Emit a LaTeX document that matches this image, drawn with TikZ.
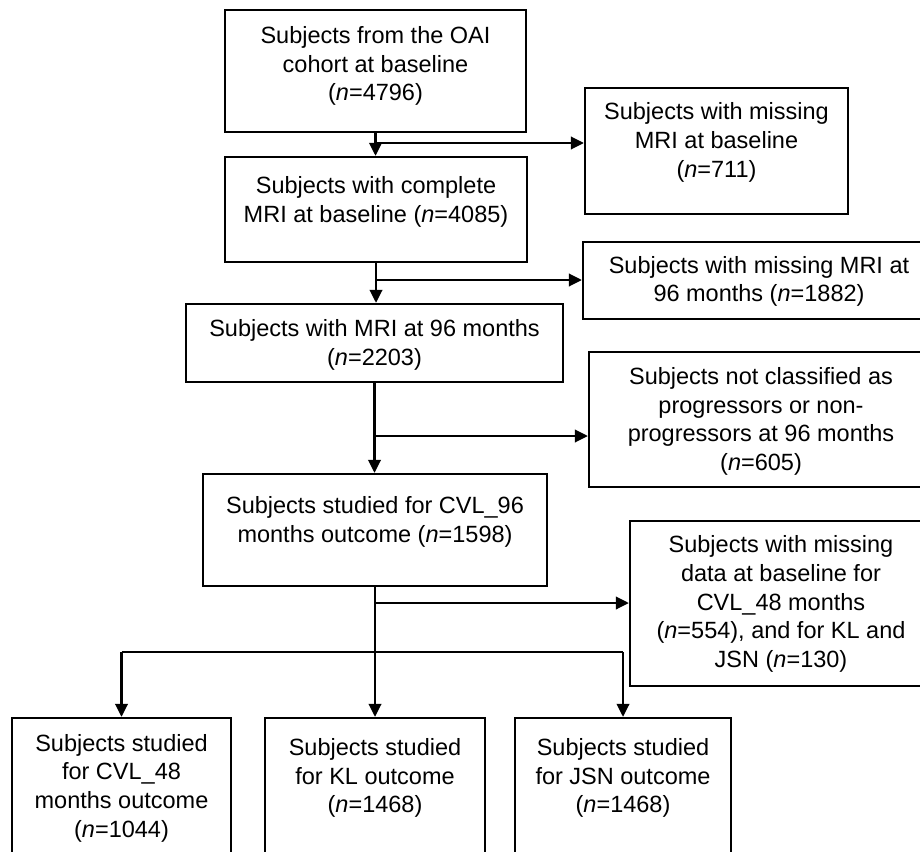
\documentclass[tikz,border=0pt]{standalone}
\usepackage{fontspec}
\setmainfont{Liberation Sans}
\usetikzlibrary{arrows.meta,calc}
\begin{document}
\begin{tikzpicture}[x=1pt,y=-1pt,
  box/.style={draw, line width=2.3pt, inner sep=0pt},
  txt/.style={align=center, font=\fontsize{23.5}{28.7}\selectfont, inner sep=0pt},
  arr/.style={line width=2.3pt, -{Triangle[length=13pt,width=12.5pt]}},
  ln/.style={line width=2.3pt}]
\clip (0,0) rectangle (920,851);
\fill[white] (0,0) rectangle (920,851);
% boxes
\node[box, minimum width=301pt, minimum height=122pt] (A) at (375.5,71) {};
\node[box, minimum width=302pt, minimum height=105pt] (B) at (376,209.5) {};
\node[box, minimum width=263pt, minimum height=126pt] (M1) at (716.5,151) {};
\node[box, minimum width=352pt, minimum height=77pt] (M2) at (759,280.5) {};
\node[box, minimum width=377pt, minimum height=78pt] (C) at (374.5,343) {};
\node[box, minimum width=346pt, minimum height=135pt] (M3) at (762,419.5) {};
\node[box, minimum width=344pt, minimum height=112pt] (D) at (375,530) {};
\node[box, minimum width=305pt, minimum height=165pt] (M4) at (782.5,603.5) {};
\node[box, minimum width=219pt, minimum height=162pt] (E1) at (121.5,799) {};
\node[box, minimum width=220pt, minimum height=162pt] (E2) at (375,799) {};
\node[box, minimum width=216pt, minimum height=162pt] (E3) at (623,799) {};
% texts
\node[txt] (tA) at (375.5,66) {Subjects from the OAI\\cohort at baseline\\(\textit{n}=4796)};
\node[txt] (tB) at (376,202) {Subjects with complete\\MRI at baseline (\textit{n}=4085)};
\node[txt] (tM1) at (716.5,142.5) {Subjects with missing\\MRI at baseline\\(\textit{n}=711)};
\node[txt] (tM2) at (759,281.5) {Subjects with missing MRI at\\96 months (\textit{n}=1882)};
\node[txt] (tC) at (374.5,345) {Subjects with MRI at 96 months\\(\textit{n}=2203)};
\node[txt] (tM3) at (761,421.5) {Subjects not classified as\\progressors or non-\\progressors at 96 months\\(\textit{n}=605)};
\node[txt] (tD) at (375,522) {Subjects studied for CVL\_96\\months outcome (\textit{n}=1598)};
\node[txt] (tM4) at (781,604) {Subjects with missing\\data at baseline for\\CVL\_48 months\\(\textit{n}=554), and for KL and\\JSN (\textit{n}=130)};
\node[txt] (tE1) at (121.5,788) {Subjects studied\\for CVL\_48\\months outcome\\(\textit{n}=1044)};
\node[txt] (tE2) at (375,778) {Subjects studied\\for KL outcome\\(\textit{n}=1468)};
\node[txt] (tE3) at (623,778) {Subjects studied\\for JSN outcome\\(\textit{n}=1468)};
% connectors
\draw[arr] (A.south) -- (A.south |- B.north);
\coordinate (j1) at (375.5,143);
\draw[arr] (j1) -- (j1 -| M1.west);
\draw[arr] (B.south) -- (B.south |- C.north);
\coordinate (j2) at (376,280);
\draw[arr] (j2) -- (j2 -| M2.west);
\draw[arr] (C.south) -- (C.south |- D.north);
\coordinate (j3) at (374.5,436);
\draw[arr] (j3) -- (j3 -| M3.west);
\coordinate (j4) at (375,603);
\coordinate (j5) at (375,652);
\draw[ln] (D.south) -- (j5);
\draw[arr] (j4) -- (j4 -| M4.west);
\draw[ln] (E1.north |- j5) -- (E3.north |- j5);
\draw[arr] (E1.north |- j5) -- (E1.north);
\draw[arr] (j5) -- (E2.north);
\draw[arr] (E3.north |- j5) -- (E3.north);
\end{tikzpicture}
\end{document}
